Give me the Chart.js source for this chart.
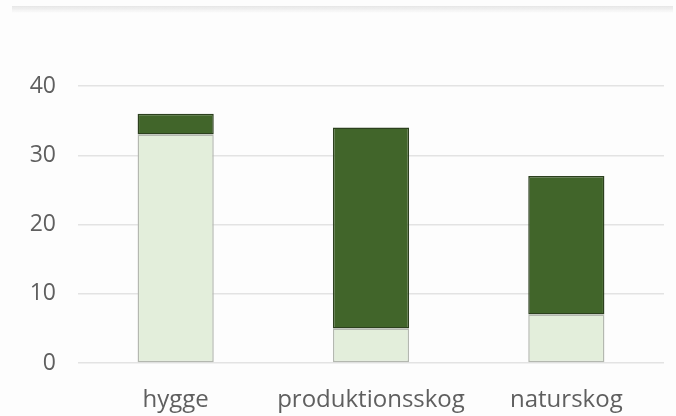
<!DOCTYPE html>
<html>
<head>
<meta charset="utf-8">
<script src="https://cdn.jsdelivr.net/npm/chart.js@4/dist/chart.umd.min.js"></script>
<style>
  html, body { margin:0; padding:0; background:#fdfdfd; }
  #wrap { position:relative; width:676px; height:416px; }
  #topline { position:absolute; left:12px; top:6px; width:661px; height:7px;
    background:linear-gradient(#e6e6e6, rgba(240,240,240,0)); }
  canvas { display:block; }
</style>
</head>
<body>
<div id="wrap">
  <div id="topline"></div>
  <canvas id="myChart" width="676" height="416"></canvas>
</div>
<script>
var kategorier = ["hygge", "produktionsskog", "naturskog"];
var ljus = [33, 5, 7];
var mork = [3, 29, 20];
var yTicks = [0, 10, 20, 30, 40];

var chartdata = {
    labels: kategorier,
    datasets: [
        {
            label: 'ljus',
            data: ljus,
            backgroundColor: '#e3eedb',
            borderColor: '#b4b8b0',
            borderWidth: 1.5,
            borderSkipped: false,
            barPercentage: 0.39,
            categoryPercentage: 1
        },
        {
            label: 'mörk',
            data: mork,
            backgroundColor: '#41652a',
            borderColor: '#2c401e',
            borderWidth: 1.5,
            borderSkipped: false,
            barPercentage: 0.39,
            categoryPercentage: 1
        }
    ]
};

var ctx = document.getElementById("myChart");
var barGraph = new Chart(ctx, {
    type: 'bar',
    data: chartdata,
    options: {
        responsive: false,
        animation: false,
        layout: { padding: { top: 86, right: 12, bottom: 0, left: 0 } },
        plugins: { legend: { display: false }, tooltip: { enabled: false } },
        scales: {
            x: {
                stacked: true,
                afterFit: function(s) { s.height = 53; },
                grid: { display: false },
                border: { display: false },
                ticks: { color: '#5f5f5f', font: { family: 'Open Sans', size: 24 }, padding: 15, maxRotation: 0 }
            },
            y: {
                stacked: true,
                min: yTicks[0],
                max: yTicks[yTicks.length - 1],
                afterFit: function(s) { s.width = 78; },
                afterBuildTicks: function(s) { s.ticks = yTicks.map(function(v){ return { value: v }; }); },
                grid: { color: '#e3e3e3', lineWidth: 1.5, drawTicks: false },
                border: { display: false },
                ticks: { color: '#5f5f5f', font: { family: 'Open Sans', size: 23 }, padding: 22 }
            }
        }
    }
});
</script>
</body>
</html>
